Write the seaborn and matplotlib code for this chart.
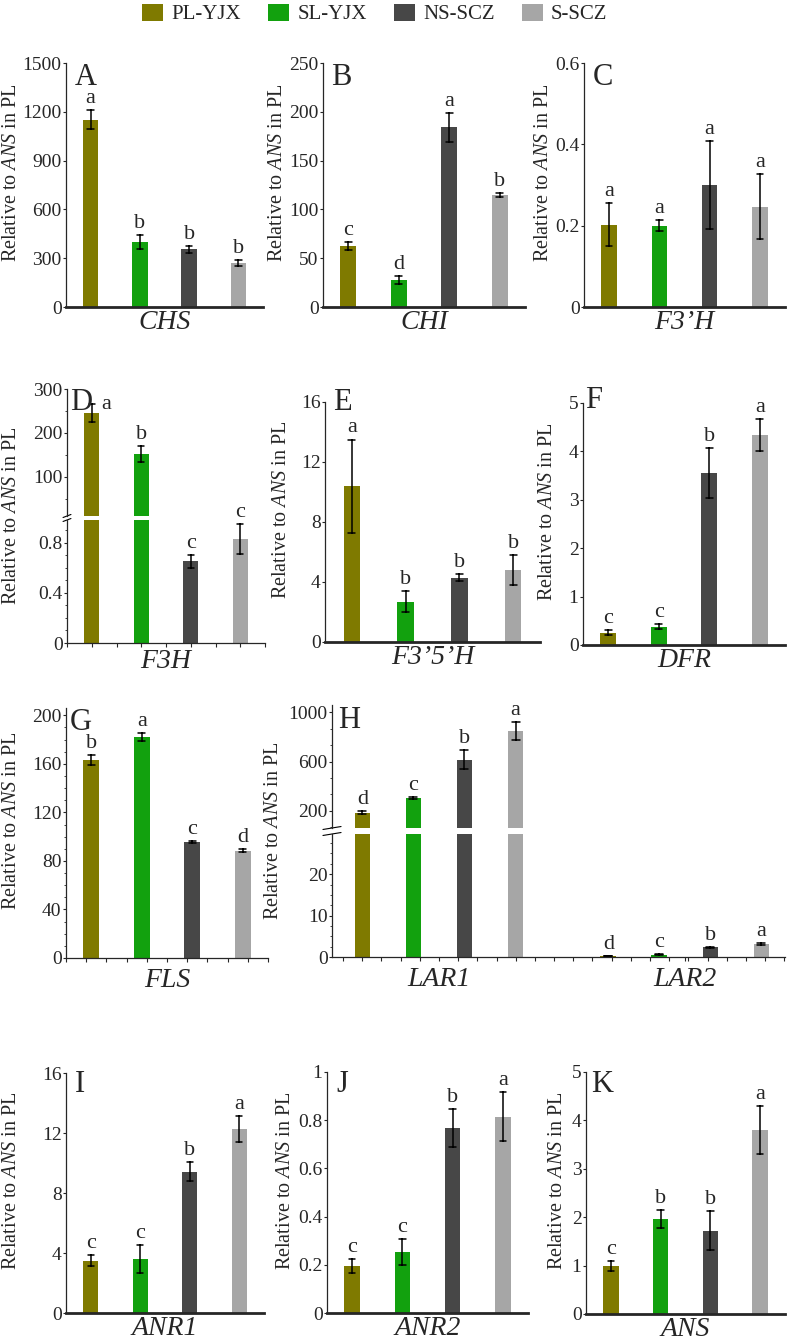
import numpy as np
import pandas as pd
import seaborn as sns
import matplotlib.pyplot as plt
from matplotlib.ticker import MultipleLocator, AutoMinorLocator, FuncFormatter
from matplotlib.patches import Patch

sns.set_style("ticks")
plt.rcParams['font.family'] = ['Liberation Serif', 'DejaVu Serif']
plt.rcParams['mathtext.fontset'] = 'custom'
plt.rcParams['mathtext.rm'] = 'Liberation Serif'
plt.rcParams['mathtext.it'] = 'Liberation Serif:italic'

# groups and colours
groups = ['PL-YJX', 'SL-YJX', 'NS-SCZ', 'S-SCZ']
colors = ['#7f7a00', '#12a10e', '#474747', '#a6a6a6']

# values (mean, sd, significance letters), order = groups
chs_mean = [1150, 401, 356, 272]
chs_sd = [58, 43, 22, 18]
chs_sig = ['a', 'b', 'b', 'b']

chi_mean = [62.5, 28, 184, 115]
chi_sd = [4, 4, 15, 2]
chi_sig = ['c', 'd', 'a', 'b']

f3ph_mean = [0.202, 0.200, 0.300, 0.246]
f3ph_sd = [0.053, 0.013, 0.107, 0.080]
f3ph_sig = ['a', 'a', 'a', 'a']

f3h_mean = [246, 152, 0.65, 0.83]
f3h_sd = [21, 18, 0.055, 0.12]
f3h_sig = ['a', 'b', 'c', 'c']

f35h_mean = [10.4, 2.7, 4.3, 4.8]
f35h_sd = [3.1, 0.73, 0.25, 1.0]
f35h_sig = ['a', 'b', 'b', 'b']

dfr_mean = [0.25, 0.38, 3.56, 4.34]
dfr_sd = [0.05, 0.05, 0.52, 0.33]
dfr_sig = ['c', 'c', 'b', 'a']

fls_mean = [163, 182, 95.6, 88.5]
fls_sd = [4, 3, 0.7, 1.5]
fls_sig = ['b', 'a', 'c', 'd']

lar1_mean = [185, 305, 616, 850]
lar1_sd = [10, 10, 75, 75]
lar1_sig = ['d', 'c', 'b', 'a']

lar2_mean = [0.3, 0.6, 2.3, 3.1]
lar2_sd = [0.05, 0.05, 0.1, 0.25]
lar2_sig = ['d', 'c', 'b', 'a']

anr1_mean = [3.49, 3.6, 9.42, 12.27]
anr1_sd = [0.37, 0.93, 0.65, 0.85]
anr1_sig = ['c', 'c', 'b', 'a']

anr2_mean = [0.195, 0.252, 0.767, 0.815]
anr2_sd = [0.03, 0.053, 0.08, 0.10]
anr2_sig = ['c', 'c', 'b', 'a']

ans_mean = [0.99, 1.96, 1.72, 3.8]
ans_sd = [0.1, 0.18, 0.4, 0.5]
ans_sig = ['c', 'b', 'b', 'a']

W, H = 787, 1341
fig = plt.figure(figsize=(W / 100, H / 100), dpi=100)
YLAB = 'Relative to $\\mathit{ANS}$ in PL'


def axes_px(x0, y0, x1, y1):
    return fig.add_axes([x0 / W, 1 - y1 / H, (x1 - x0) / W, (y1 - y0) / H])


def draw_bars(ax, genes, means, sds, width=1.0):
    rows = []
    for gene, ml, sl in zip(genes, means, sds):
        for grp, m, s in zip(groups, ml, sl):
            rows.append((gene, grp, m - s))
            rows.append((gene, grp, m + s))
    df = pd.DataFrame(rows, columns=['gene', 'group', 'value'])
    sns.barplot(data=df, x='gene', y='value', hue='group', hue_order=groups,
                palette=colors, errorbar=('pi', 100), capsize=0.13,
                err_kws={'color': 'black', 'linewidth': 1.1},
                width=width, gap=0.69, linewidth=0, saturation=1,
                legend=False, ax=ax)
    ax.set_xlabel('')
    ax.set_ylabel('')


def add_letters(ax, means, sds, letters, shift=None):
    shift = shift or {}
    bars = sorted(ax.patches, key=lambda p: p.get_x())
    ms = [m for ml in means for m in ml]
    ss = [s for sl in sds for s in sl]
    ls = [l for ll in letters for l in ll]
    lo, hi = ax.get_ylim()
    for i, (bar, m, s, let) in enumerate(zip(bars, ms, ss, ls)):
        if not (lo <= m <= hi):
            continue
        dx, dy = shift.get(i, (0, 7))
        ax.annotate(let, xy=(bar.get_x() + bar.get_width() / 2, m + s),
                    xytext=(dx * 0.72, dy * 0.72), textcoords='offset points',
                    ha='center', va='baseline', fontsize=16, annotation_clip=False)


def style(ax, ylim, step, thick=True, yminor=None, xtick=None, labels=True, pad=2):
    sns.despine(ax=ax)
    ax.set_ylim(*ylim)
    ax.yaxis.set_major_locator(MultipleLocator(step))
    ax.yaxis.set_major_formatter(FuncFormatter(lambda v, _: f'{v:g}'))
    ax.tick_params(axis='y', labelsize=14, length=2.2, width=0.8, pad=1)
    if yminor is not None:
        ax.yaxis.set_minor_locator(yminor)
        ax.tick_params(axis='y', which='minor', length=1.5, width=0.6)
    ax.spines['left'].set_linewidth(0.9)
    ax.spines['bottom'].set_linewidth(2.0 if thick else 0.9)
    if xtick is not None:
        ax.xaxis.set_minor_locator(MultipleLocator(xtick))
        ax.tick_params(axis='x', which='both', length=3, width=0.8)
    else:
        ax.tick_params(axis='x', length=0)
    ax.tick_params(axis='x', labelsize=20, pad=pad)
    for t in ax.get_xticklabels():
        t.set_fontstyle('italic')
    if not labels:
        ax.tick_params(axis='x', which='both', bottom=False, labelbottom=False)


def ylabel(ax, center_px, x0, x1, yfrac=0.55):
    ax.set_ylabel(YLAB, fontsize=14.5)
    ax.yaxis.label.set_verticalalignment('center')
    ax.yaxis.set_label_coords((center_px - x0) / (x1 - x0), yfrac)


def tag(ax, text, dx, dy):
    ax.annotate(text, xy=(0, 1), xycoords='axes fraction',
                xytext=(dx * 0.72, -dy * 0.72), textcoords='offset points',
                fontsize=22, ha='left', va='baseline', annotation_clip=False)


def break_marks(ax_top, ax_bot):
    for ax, y in ((ax_top, 0), (ax_bot, 1)):
        ax.plot([-0.02, 0.02], [y - 0.012, y + 0.012], transform=ax.transAxes,
                color='black', lw=0.8, clip_on=False)


def simple(box, gene, means, sds, sig, ylim, step, letter, tagpos, ylab_x,
           thick=True, yminor=None, xtick=None, pad=2):
    ax = axes_px(*box)
    draw_bars(ax, [gene], [means], [sds])
    ax.set_xlim(-0.5, 0.5)
    style(ax, ylim, step, thick=thick, yminor=yminor, xtick=xtick, pad=pad)
    add_letters(ax, [means], [sds], [sig])
    ylabel(ax, ylab_x, box[0], box[2])
    tag(ax, letter, *tagpos)
    return ax


# row 1
simple((66, 63, 263, 307), 'CHS', chs_mean, chs_sd, chs_sig, (0, 1500), 300, 'A', (9, 22), 11.3)
simple((323, 63, 525, 307), 'CHI', chi_mean, chi_sd, chi_sig, (0, 250), 50, 'B', (8, 22), 277)
simple((584, 63, 785, 307), 'F3\u2019H', f3ph_mean, f3ph_sd, f3ph_sig, (0, 0.6), 0.2, 'C', (9, 22), 543.5)

# row 2: D with broken axis
d_top = axes_px(67, 389, 265, 516)
d_bot = axes_px(67, 520, 265, 643)
for ax in (d_top, d_bot):
    draw_bars(ax, ['F3H'], [f3h_mean], [f3h_sd])
    ax.set_xlim(-0.5, 0.5)
style(d_top, (11, 300), 100, thick=False, yminor=MultipleLocator(50), labels=False)
d_top.spines['bottom'].set_visible(False)
style(d_bot, (0, 0.98), 0.4, thick=False, yminor=MultipleLocator(0.1), xtick=0.125, pad=1)
add_letters(d_top, [f3h_mean], [f3h_sd], [f3h_sig], shift={0: (14, -5)})
add_letters(d_bot, [f3h_mean], [f3h_sd], [f3h_sig])
break_marks(d_top, d_bot)
ylabel(d_bot, 11.3, 67, 265, yfrac=(643 - 516) / (643 - 520))
tag(d_top, 'D', 3, 21)

simple((325, 402, 540, 642), 'F3\u20195\u2019H', f35h_mean, f35h_sd, f35h_sig, (0, 16), 4, 'E', (8, 8), 281)
simple((583, 403, 785, 645), 'DFR', dfr_mean, dfr_sd, dfr_sig, (0, 5), 1, 'F', (2, 5), 548)

# row 3
simple((66, 708, 268, 958), 'FLS', fls_mean, fls_sd, fls_sig, (0, 206), 40, 'G', (4, 22), 11.3,
       thick=False, yminor=MultipleLocator(10), xtick=0.1, pad=4)

h_top = axes_px(332, 705, 785, 828)
h_bot = axes_px(332, 834, 785, 957)
for ax in (h_top, h_bot):
    draw_bars(ax, ['LAR1', 'LAR2'], [lar1_mean, lar2_mean], [lar1_sd, lar2_sd], width=0.83)
    ax.set_xlim(-0.435, 1.407)
style(h_top, (60, 1060), 400, thick=False, yminor=AutoMinorLocator(3), labels=False)
h_top.yaxis.set_major_locator(MultipleLocator(400, offset=200))
h_top.spines['bottom'].set_visible(False)
style(h_bot, (0, 29.7), 10, thick=False, yminor=AutoMinorLocator(4), xtick=0.078, pad=4)
# letters: sorted bars run LAR1 groups, then LAR2 groups
add_letters(h_top, [lar1_mean, lar2_mean], [lar1_sd, lar2_sd], [lar1_sig, lar2_sig])
add_letters(h_bot, [lar1_mean, lar2_mean], [lar1_sd, lar2_sd], [lar1_sig, lar2_sig])
break_marks(h_top, h_bot)
ylabel(h_bot, 274, 332, 785, yfrac=(957 - 831) / (957 - 834))
tag(h_top, 'H', 6, 23)

# row 4
simple((66, 1073, 264, 1313), 'ANR1', anr1_mean, anr1_sd, anr1_sig, (0, 16), 4, 'I', (9, 19), 11.3)
simple((327, 1072, 528, 1313), 'ANR2', anr2_mean, anr2_sd, anr2_sig, (0, 1), 0.2, 'J', (9, 20), 285)
simple((586, 1072, 785, 1314), 'ANS', ans_mean, ans_sd, ans_sig, (0, 5), 1, 'K', (5, 20), 557.5)

handles = [Patch(facecolor=c, edgecolor='none', label=g) for g, c in zip(groups, colors)]
fig.legend(handles=handles, loc='center', bbox_to_anchor=(375 / W, 1 - 14 / H), ncol=4,
           frameon=False, fontsize=15, handlelength=1.0, handleheight=0.9,
           handletextpad=0.4, columnspacing=1.3, borderpad=0)

fig.savefig('out.png', dpi=100)
